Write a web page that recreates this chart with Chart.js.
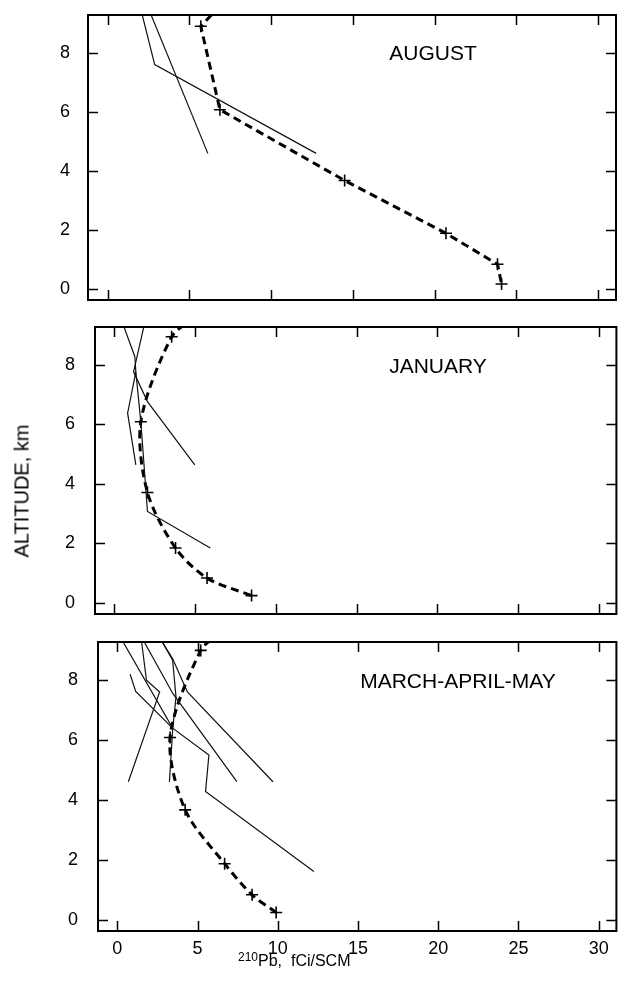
<!DOCTYPE html>
<html>
<head>
<meta charset="utf-8">
<script src="https://cdn.jsdelivr.net/npm/chart.js@4.4.1/dist/chart.umd.min.js"></script>
<style>
  body { margin: 0; background: #fff; }
  #quadro { position: relative; width: 624px; height: 986px; font-family: "Liberation Sans", Arial, sans-serif; color: #000; }
  canvas { position: absolute; left: 0; }
  .rotulo { position: absolute; transform: translate(-50%, -50%); font-size: 21px; white-space: nowrap; }
  #eixoY { position: absolute; left: 22px; top: 491px; transform: translate(-50%, -50%) rotate(-90deg); font-size: 20px; white-space: nowrap; }
  #eixoX { position: absolute; left: 238px; top: 953px; font-size: 16px; line-height: 16px; white-space: nowrap; }
  #eixoX span { font-size: 12px; position: relative; top: -5px; }
</style>
</head>
<body>
<div id="quadro">
  <canvas id="agosto" width="624" height="310" style="top:0"></canvas>
  <canvas id="janeiro" width="624" height="309" style="top:315px"></canvas>
  <canvas id="marco" width="624" height="356" style="top:630px"></canvas>
  <div class="rotulo" style="left:433px;top:53px">AUGUST</div>
  <div class="rotulo" style="left:438px;top:366px">JANUARY</div>
  <div class="rotulo" style="left:458px;top:681px">MARCH-APRIL-MAY</div>
  <div id="eixoY">ALTITUDE, km</div>
  <div id="eixoX"><span>210</span>Pb,&nbsp; fCi/SCM</div>
</div>
<script>
// ticks dos eixos
const xTicks = [0, 5, 10, 15, 20, 25, 30]
const yTicks = [0, 2, 4, 6, 8]

// AGOSTO - perfil medio (tracejado) e perfis individuais
const agoMediaPb = [6.9, 5.7, 6.87, 14.5, 20.7, 23.85, 24.1]
const agoMediaAlt = [9.6, 8.9, 6.07, 3.67, 1.88, 0.83, 0.16]
const agoPerfisPb = [[2.02, 2.88, 12.76], [2.5, 6.13]]
const agoPerfisAlt = [[9.5, 7.6, 4.59], [9.5, 4.59]]

// JANEIRO
const janMediaPb = [5.0, 3.55, 1.64, 2.05, 3.79, 5.74, 8.5]
const janMediaAlt = [9.6, 8.95, 6.09, 3.71, 1.84, 0.83, 0.24]
const janPerfisPb = [[0.55, 1.27, 1.33, 0.82, 1.33], [1.85, 1.19, 2.05, 4.98], [1.33, 1.64, 2.05, 5.94]]
const janPerfisAlt = [[9.35, 8.28, 7.77, 6.38, 4.64], [9.35, 7.77, 6.77, 4.64], [7.77, 6.08, 3.07, 1.84]]

// MARCO-ABRIL-MAIO
const marMediaPb = [6.47, 5.2, 3.29, 4.23, 6.69, 8.4, 9.9]
const marMediaAlt = [9.6, 9.0, 6.09, 3.67, 1.87, 0.83, 0.24]
const marPerfisPb = [
    [0.29, 3.45, 5.71, 5.5, 12.25],
    [0.8, 1.15, 3.45],
    [1.5, 1.82, 2.64, 0.69],
    [1.61, 3.46, 7.45],
    [2.73, 3.45, 3.66, 3.45, 3.25],
    [2.73, 3.45, 4.37, 9.7]
]
const marPerfisAlt = [
    [9.35, 6.4, 5.5, 4.28, 1.61],
    [8.2, 7.63, 6.4],
    [9.35, 8.0, 7.61, 4.61],
    [9.35, 7.56, 4.61],
    [9.35, 8.67, 7.44, 6.33, 4.61],
    [9.35, 8.72, 7.61, 4.61]
]

const X_MIN = -1.2, X_MAX = 31.1
const Y_MIN = -0.38, Y_MAX = 9.28
const fonte = '"Liberation Sans", Arial, sans-serif'

function pares(pb, alt) {// junta os dois vetores em pontos {x, y}
    return pb.map((v, i) => ({ x: v, y: alt[i] }))
}

// moldura e tracinhos para dentro nos quatro lados
const moldura = {
    id: 'moldura',
    afterDraw(chart) {
        const { ctx, chartArea: { left, right, top, bottom }, scales: { x, y } } = chart
        ctx.save()
        ctx.strokeStyle = '#000'
        ctx.lineWidth = 2
        ctx.strokeRect(left, top, right - left, bottom - top)
        ctx.lineWidth = 1.5
        ctx.beginPath()
        for (let t of x.ticks) {
            let px = Math.round(x.getPixelForValue(t.value)) + 0.5
            ctx.moveTo(px, top); ctx.lineTo(px, top + 10)
            ctx.moveTo(px, bottom); ctx.lineTo(px, bottom - 10)
        }
        for (let t of y.ticks) {
            let py = Math.round(y.getPixelForValue(t.value)) + 0.5
            ctx.moveTo(left, py); ctx.lineTo(left + 10, py)
            ctx.moveTo(right, py); ctx.lineTo(right - 10, py)
        }
        ctx.stroke()
        ctx.restore()
    }
}

// tira o espaco extra que o chart.js reserva para os rotulos das pontas
function semFolga(s) {
    s.paddingTop = 0
    s.paddingBottom = 0
    s.paddingLeft = 0
    s.paddingRight = 0
}

function criarPainel(id, cfg) {
    let datasets = cfg.perfisPb.map((pb, i) => ({
        data: pares(pb, cfg.perfisAlt[i]),
        showLine: true,
        borderColor: '#111',
        borderWidth: 1.2,
        pointRadius: 0,
        clip: 0
    }))
    datasets.push({
        data: pares(cfg.mediaPb, cfg.mediaAlt),
        showLine: true,
        borderColor: '#000',
        borderWidth: 3,
        borderDash: [8, 5],
        tension: cfg.tension,
        pointStyle: 'cross',
        pointRadius: ctx => (ctx.raw && ctx.raw.y <= Y_MAX) ? 6 : 0,
        pointBorderColor: '#000',
        pointBorderWidth: 1.6,
        clip: 0
    })
    new Chart(document.getElementById(id), {
        type: 'scatter',
        data: { datasets },
        options: {
            animation: false,
            responsive: false,
            devicePixelRatio: 1,
            layout: { padding: cfg.padding },
            plugins: { legend: { display: false }, tooltip: { enabled: false } },
            scales: {
                x: {
                    type: 'linear', min: X_MIN, max: X_MAX,
                    grid: { display: false, drawTicks: false },
                    border: { display: false },
                    afterBuildTicks: s => { s.ticks = xTicks.map(v => ({ value: v })) },
                    afterFit: s => { s.height = cfg.alturaX; semFolga(s) },
                    ticks: { display: cfg.mostrarX, color: '#000', padding: 7, maxRotation: 0, font: { family: fonte, size: 18 } }
                },
                y: {
                    type: 'linear', min: Y_MIN, max: Y_MAX,
                    grid: { display: false, drawTicks: false },
                    border: { display: false },
                    afterBuildTicks: s => { s.ticks = yTicks.map(v => ({ value: v })) },
                    afterFit: s => { s.width = cfg.larguraY; semFolga(s) },
                    ticks: { color: '#000', padding: cfg.recuoY, font: { family: fonte, size: 18 } }
                }
            }
        },
        plugins: [moldura]
    })
}

criarPainel('agosto', {
    perfisPb: agoPerfisPb, perfisAlt: agoPerfisAlt, mediaPb: agoMediaPb, mediaAlt: agoMediaAlt,
    tension: 0, padding: { left: 0, right: 8, top: 15, bottom: 10 },
    larguraY: 88, recuoY: 18, alturaX: 0, mostrarX: false
})
criarPainel('janeiro', {
    perfisPb: janPerfisPb, perfisAlt: janPerfisAlt, mediaPb: janMediaPb, mediaAlt: janMediaAlt,
    tension: 0.3, padding: { left: 0, right: 2, top: 12, bottom: 10 },
    larguraY: 95, recuoY: 20, alturaX: 0, mostrarX: false
})
criarPainel('marco', {
    perfisPb: marPerfisPb, perfisAlt: marPerfisAlt, mediaPb: marMediaPb, mediaAlt: marMediaAlt,
    tension: 0.3, padding: { left: 0, right: 1, top: 12, bottom: 0 },
    larguraY: 98, recuoY: 20, alturaX: 55, mostrarX: true
})
</script>
</body>
</html>
